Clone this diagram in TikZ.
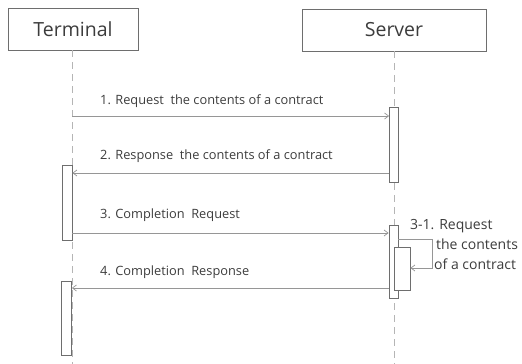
\documentclass[tikz,border=0pt]{standalone}
\usepackage{fontspec}
\setmainfont{Open Sans}
\usetikzlibrary{arrows.meta}
\definecolor{txt}{RGB}{60,60,60}
\definecolor{lin}{RGB}{150,150,150}
\definecolor{boxc}{RGB}{110,110,110}
\begin{document}
\begin{tikzpicture}[x=1pt,y=-1pt,
  head/.style={draw=boxc,line width=0.9pt,fill=white,minimum height=42pt,inner sep=0pt,text=txt,font=\fontsize{19.5}{21}\selectfont},
  life/.style={draw=lin!70,dashed,line width=0.7pt,dash pattern=on 7pt off 5pt},
  act/.style={draw=boxc,line width=0.8pt,fill=white,inner sep=0pt,minimum width=9pt},
  msg/.style={draw=lin,line width=0.7pt,-{Straight Barb[length=4pt,width=6pt]}},
  lbl/.style={anchor=west,inner sep=0pt,text=txt,font=\fontsize{12.8}{14}\selectfont},
  lblb/.style={lbl,font=\fontsize{14}{16}\selectfont}]
\useasboundingbox (0,0) rectangle (522,364);
\node[head,minimum width=130pt] (term) at (73,29) {Terminal};
\node[head,minimum width=184pt] (serv) at (394,30) {Server};
\coordinate (tend) at (72,364);
\coordinate (send) at (394,364);
\draw[life] (term.south -| tend) -- (tend);
\draw[life] (serv.south -| send) -- (send);
% y levels
\coordinate (y1) at (0,116);
\coordinate (y2) at (0,173);
\coordinate (y3) at (0,233);
\coordinate (y4) at (0,288);
\coordinate (ys1) at (0,239);
\coordinate (ys2) at (0,268);
% activations
\node[act,minimum height=75pt] (s1) at (394,144.5) {};
\node[act,minimum width=10pt,minimum height=75pt] (t1) at (67,202.5) {};
\node[act,minimum height=73pt] (s2) at (393.5,261.5) {};
\node[act,minimum width=16pt,minimum height=43pt] (s3) at (402,268.5) {};
\node[act,minimum width=10pt,minimum height=74pt] (t2) at (66.5,318) {};
% messages
\draw[msg] (tend |- y1) -- (s1.west |- y1);
\draw[msg] (s1.west |- y2) -- (t1.east |- y2);
\draw[msg] (t1.east |- y3) -- (s2.west |- y3);
\coordinate (c1) at (432,239);
\coordinate (c2) at (432,268);
\draw[msg] (s2.east |- ys1) -- (c1) -- (c2) -- (s3.east |- ys2);
\draw[msg] (s2.west |- y4) -- (t2.east |- y4);
% labels
\node[lbl] (l1) at (100,101) {1. Request\ \ the contents of a contract};
\node[lbl] (l2) at (100,156) {2. Response\ \ the contents of a contract};
\node[lbl] (l3) at (100,215) {3. Completion\ \ Request};
\node[lbl] (l4) at (100,272) {4. Completion\ \ Response};
\node[lblb] (l5a) at (410,226) {3-1. Request};
\node[lblb] (l5b) at (436,244) {the contents};
\node[lblb] (l5c) at (434,264) {of a contract};
\end{tikzpicture}
\end{document}
